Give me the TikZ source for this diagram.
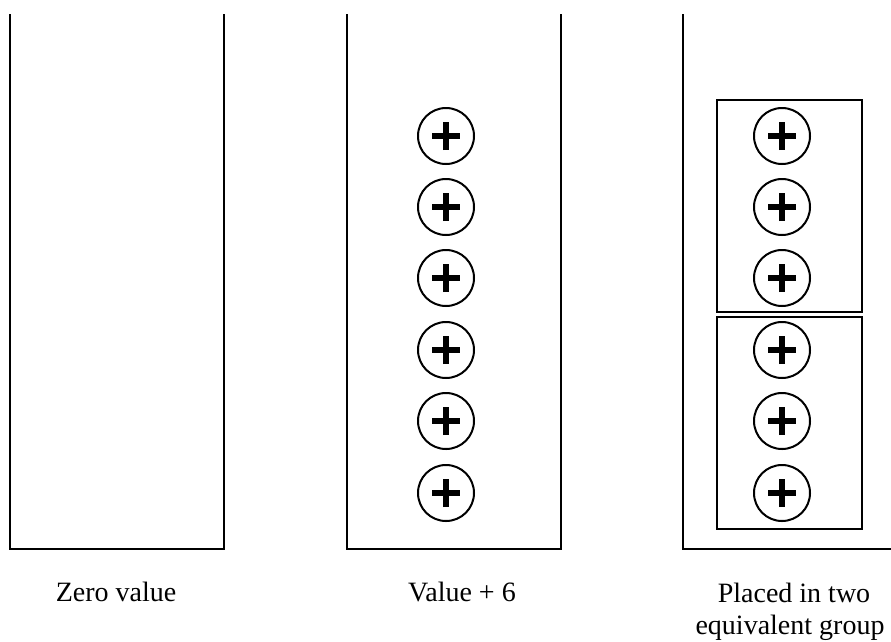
\documentclass[tikz,border=0pt]{standalone}
\usepackage{fontspec}
\setmainfont{Liberation Serif}
\begin{document}
\begin{tikzpicture}[x=1pt,y=-1pt,
  wall/.style={line width=2.8pt,line join=miter},
  groupbox/.style={draw,line width=2pt,minimum width=145pt,inner sep=0pt},
  plusdisc/.style={draw,circle,line width=2pt,minimum size=56pt,inner sep=0pt},
  plusbar/.style={line width=6pt},
  lbl/.style={font=\fontsize{28}{32}\selectfont,align=center,inner sep=0pt,anchor=base}
]
\useasboundingbox (0,0) rectangle (891,641);
% containers
\draw[wall] (10,14) -- (10,549) -- (224,549) -- (224,14);
\draw[wall] (347,14) -- (347,549) -- (561,549) -- (561,14);
\draw[wall] (683,14) -- (683,549) -- (895,549);
% group boxes
\node[groupbox,minimum height=212pt] (g1) at (789.5,206) {};
\node[groupbox,minimum height=212pt] (g2) at (789.5,423) {};
% discs
\foreach \i/\y in {1/136,2/207,3/278,4/350,5/421,6/493}{
  \node[plusdisc] (m\i) at (446,\y) {};
  \node[plusdisc] (r\i) at (782,\y) {};
  \foreach \n in {m\i,r\i}{
    \draw[plusbar] ([xshift=-14pt]\n.center) -- ([xshift=14pt]\n.center);
    \draw[plusbar] ([yshift=-14pt]\n.center) -- ([yshift=14pt]\n.center);
  }
}
% labels
\node[lbl] (l1) at (116,601) {Zero value};
\node[lbl] (l2) at (462,601) {Value + 6};
\node[lbl] (l3) at (794,602) {Placed in two};
\node[lbl] (l4) at (790,634) {equivalent group};
\end{tikzpicture}
\end{document}
